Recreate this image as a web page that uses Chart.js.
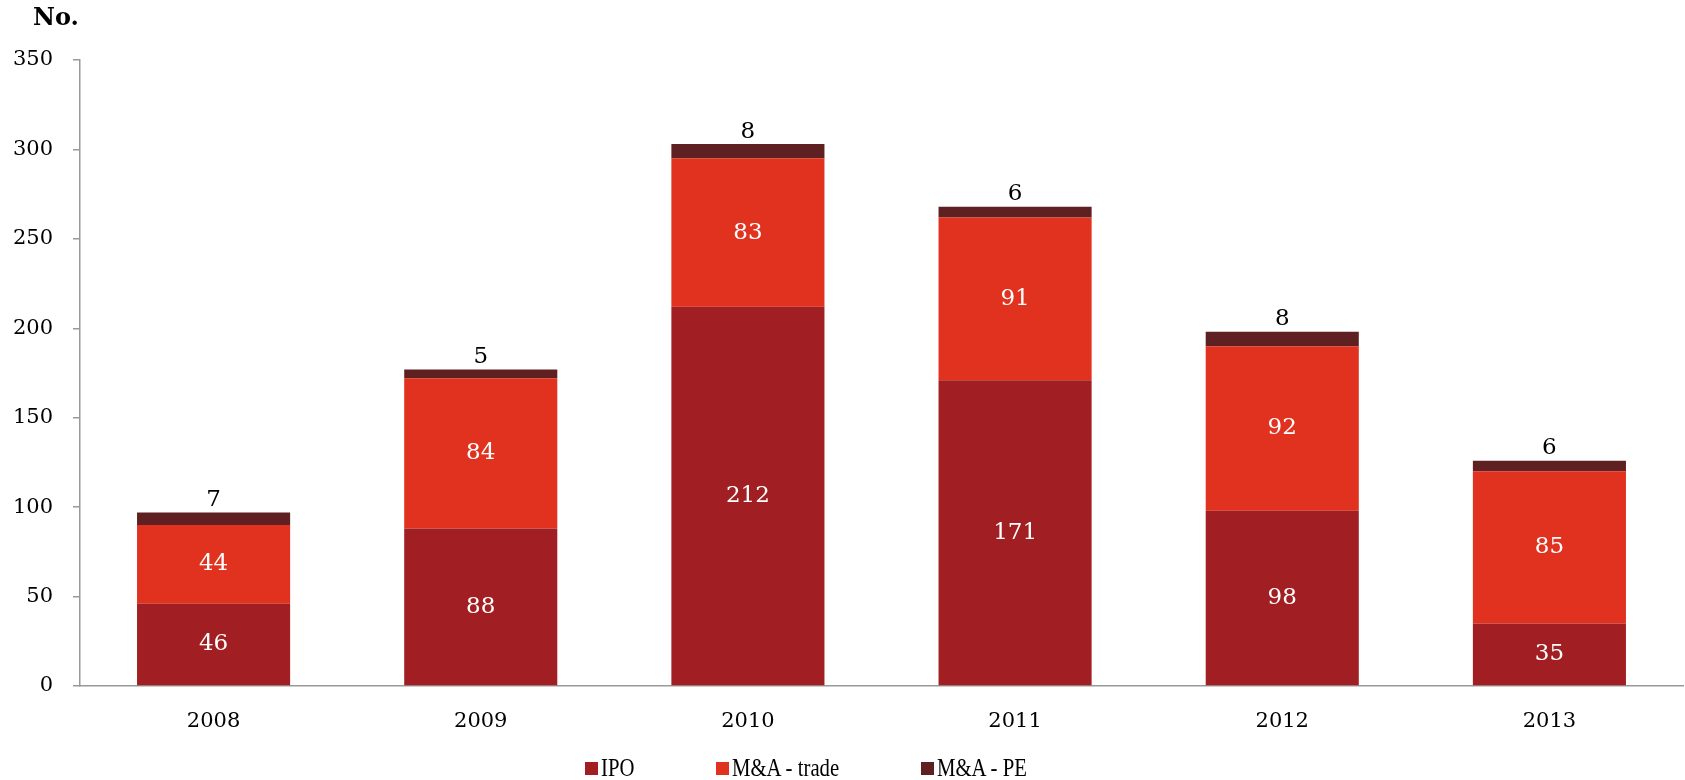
<!DOCTYPE html>
<html>
<head>
<meta charset="utf-8">
<script src="https://cdn.jsdelivr.net/npm/chart.js@4/dist/chart.umd.min.js"></script>
<style>
  html, body { margin: 0; padding: 0; background: #fff; }
  #wrap { position: relative; width: 1685px; height: 780px; overflow: hidden; }
  #legend { position: absolute; left: 585px; top: 754px; display: flex; gap: 82px;
            font-family: "Liberation Serif", serif; font-size: 25px; color: #000; line-height: 28px; }
  .item { display: flex; align-items: center; }
  .sw { width: 13px; height: 13px; margin-right: 3px; flex: none; }
  .tw { display: inline-block; overflow: visible; white-space: nowrap; }
  .tx { display: inline-block; transform: scaleX(0.83); transform-origin: 0 50%; white-space: nowrap; }
</style>
</head>
<body>
<div id="wrap">
  <canvas id="c" width="1685" height="780"></canvas>
  <div id="legend"></div>
</div>
<script>
const categories = ["2008", "2009", "2010", "2011", "2012", "2013"];
const ipo = [46, 88, 212, 171, 98, 35];
const maTrade = [44, 84, 83, 91, 92, 85];
const maPE = [7, 5, 8, 6, 8, 6];
const seriesNames = ["IPO", "M&A - trade", "M&A - PE"];
const seriesColors = ["#A11F22", "#E0321F", "#5E2020"];
const yTicks = [0, 50, 100, 150, 200, 250, 300, 350];
const yAxisTitle = "No.";

const labelPlugin = {
  id: 'barLabels',
  afterDatasetsDraw(chart) {
    const ctx = chart.ctx;
    ctx.save();
    ctx.font = '23px "DejaVu Serif", serif';
    ctx.textAlign = 'center';
    chart.data.datasets.forEach((ds, di) => {
      const meta = chart.getDatasetMeta(di);
      meta.data.forEach((el, i) => {
        const v = ds.data[i];
        if (di < 2) {
          ctx.fillStyle = '#fff';
          ctx.textBaseline = 'middle';
          ctx.fillText(String(v), el.x, (el.y + el.base) / 2);
        } else {
          ctx.fillStyle = '#000';
          ctx.textBaseline = 'bottom';
          ctx.fillText(String(v), el.x, el.y - 1);
        }
      });
    });
    ctx.font = 'bold 24px "DejaVu Serif", serif';
    ctx.fillStyle = '#000';
    ctx.textAlign = 'left';
    ctx.textBaseline = 'middle';
    ctx.fillText(yAxisTitle, 33, 19);
    ctx.restore();
  }
};

const chart = new Chart(document.getElementById('c'), {
  type: 'bar',
  data: {
    labels: categories,
    datasets: [
      { label: seriesNames[0], data: ipo, backgroundColor: seriesColors[0] },
      { label: seriesNames[1], data: maTrade, backgroundColor: seriesColors[1] },
      { label: seriesNames[2], data: maPE, backgroundColor: seriesColors[2] }
    ]
  },
  options: {
    responsive: false,
    animation: false,
    layout: { padding: { top: 60, right: 2, bottom: 44, left: 0 } },
    datasets: { bar: { barPercentage: 0.573, categoryPercentage: 1.0 } },
    plugins: { legend: { display: false }, tooltip: { enabled: false } },
    scales: {
      x: {
        stacked: true,
        grid: { display: false },
        border: { display: true, color: '#999', width: 1.5 },
        ticks: { color: '#000', padding: 15, font: { family: '"DejaVu Serif", serif', size: 21 } },
        afterFit(s) { s.height = 50; }
      },
      y: {
        stacked: true,
        min: 0, max: 350,
        afterBuildTicks(s) { s.ticks = yTicks.map(v => ({ value: v })); },
        grid: { drawOnChartArea: false, tickLength: 7, color: '#999', lineWidth: 1.5 },
        border: { display: true, color: '#999', width: 1.5 },
        ticks: { color: '#000', padding: 20, font: { family: '"DejaVu Serif", serif', size: 21 } },
        afterFit(s) { s.width = 80; }
      }
    }
  },
  plugins: [labelPlugin]
});

const legend = document.getElementById('legend');
chart.data.datasets.forEach(ds => {
  const it = document.createElement('div');
  it.className = 'item';
  const sw = document.createElement('span');
  sw.className = 'sw';
  sw.style.background = ds.backgroundColor;
  const tw = document.createElement('span');
  tw.className = 'tw';
  const tx = document.createElement('span');
  tx.className = 'tx';
  tx.textContent = ds.label;
  tw.appendChild(tx);
  it.appendChild(sw); it.appendChild(tw);
  legend.appendChild(it);
  tw.style.width = (tx.offsetWidth * 0.83) + 'px';
});
</script>
</body>
</html>
